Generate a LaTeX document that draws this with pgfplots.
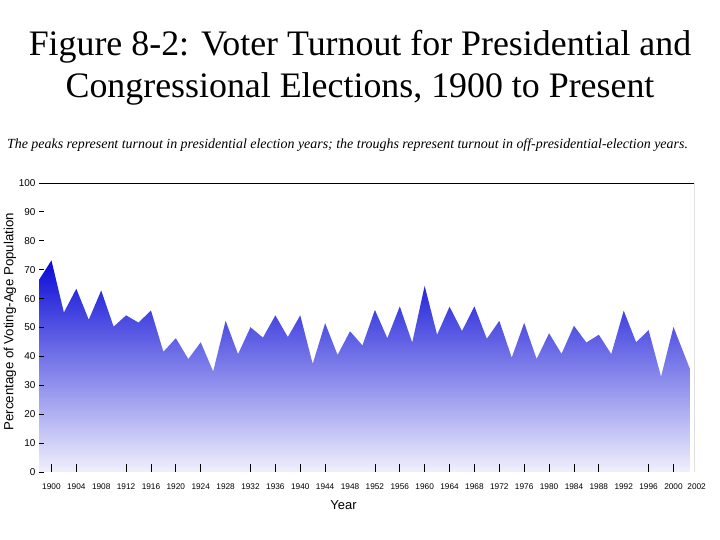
\documentclass[border=0pt]{standalone}
\usepackage{fontspec}
\setmainfont{Liberation Serif}
\setsansfont{Liberation Sans}
\usepackage{pgfplots}
\pgfplotsset{compat=1.18}
\usepackage{pgfplotstable}

\definecolor{turntop}{RGB}{10,10,215}
\definecolor{turnmid}{RGB}{85,85,230}
\definecolor{turnbot}{RGB}{240,240,252}

% turnout, % of voting-age population
\pgfplotstableread{
year  pct
1898  66.5
1900  73.2
1902  55.2
1904  63.4
1906  52.7
1908  62.8
1910  50.3
1912  54.2
1914  51.7
1916  55.9
1918  41.6
1920  46.3
1922  39.1
1924  44.9
1926  34.8
1928  52.3
1930  40.8
1932  50.1
1934  46.5
1936  54.2
1938  46.7
1940  54.2
1942  37.4
1944  51.5
1946  40.5
1948  48.7
1950  43.8
1952  56.1
1954  46.3
1956  57.3
1958  44.8
1960  64.4
1962  47.5
1964  57.2
1966  48.8
1968  57.3
1970  46.1
1972  52.3
1974  39.6
1976  51.6
1978  39.1
1980  48.0
1982  40.9
1984  50.6
1986  44.8
1988  47.5
1990  40.8
1992  55.8
1994  44.9
1996  49.1
1998  33.0
2000  50.2
2002.6 35.9
}\turnout

\begin{document}
\begin{tikzpicture}
\useasboundingbox (0,0) rectangle (720bp,540bp);
% titles
\node[anchor=base, font=\fontsize{36}{40}\selectfont] at (360bp,484bp)
  {Figure 8-2: Voter Turnout for Presidential and};
\node[anchor=base, font=\fontsize{36}{40}\selectfont] at (360bp,442bp)
  {Congressional Elections, 1900 to Present};
\node[anchor=base, font=\itshape\fontsize{14}{16}\selectfont] at (347.5bp,391bp)
  {The peaks represent turnout in presidential election years; the troughs represent turnout in off-presidential-election years.};

\begin{axis}[
  at={(39bp,68bp)}, anchor=south west,
  scale only axis,
  width=655bp, height=289bp,
  xmin=1898, xmax=2003.3,
  ymin=0, ymax=100,
  axis on top,
  axis line style={draw=none},
  tick align=inside,
  xtick pos=bottom, ytick pos=left,
  major tick length=8bp,
  tick style={black, line width=0.8pt},
  xtick={1900,1904,1912,1916,1920,1924,1932,1936,1940,1944,1952,1956,1960,1964,1968,1972,1976,1980,1984,1988,1996,2000},
  extra x ticks={1908,1928,1948,1992,2002.6},
  extra x tick labels={1908,1928,1948,1992,\makebox[0pt]{\hspace{14bp}2002}},
  extra x tick style={major tick length=0pt},
  ytick={10,20,...,80},
  ytick style={/pgfplots/major tick length=5bp},
  extra y ticks={0,90,100},
  extra y tick style={major tick length=0pt},
  /pgf/number format/1000 sep={},
  /pgf/number format/assume math mode=true,
  xticklabel style={font=\sffamily\fontsize{8.3}{9}\selectfont, yshift=-8bp},
  yticklabel style={font=\sffamily\fontsize{10}{11}\selectfont},
  xlabel={Year},
  xlabel style={font=\sffamily\fontsize{13}{15}\selectfont, at={(rel axis cs:0.465,0)}, anchor=base, yshift=-37bp},
  ylabel={Percentage of Voting-Age Population},
  ylabel style={font=\sffamily\fontsize{13.3}{15}\selectfont, at={(rel axis cs:0,0.52)}, anchor=center, yshift=29bp},
]
\addplot[draw=none, top color=turntop, middle color=turnmid, bottom color=turnbot]
  table[x=year, y=pct] {\turnout} \closedcycle;
\draw[black, line width=0.8pt] (rel axis cs:0,1) -- (rel axis cs:1,1) -- (rel axis cs:1,0) -- (rel axis cs:0,0);
\end{axis}
\end{tikzpicture}
\end{document}
